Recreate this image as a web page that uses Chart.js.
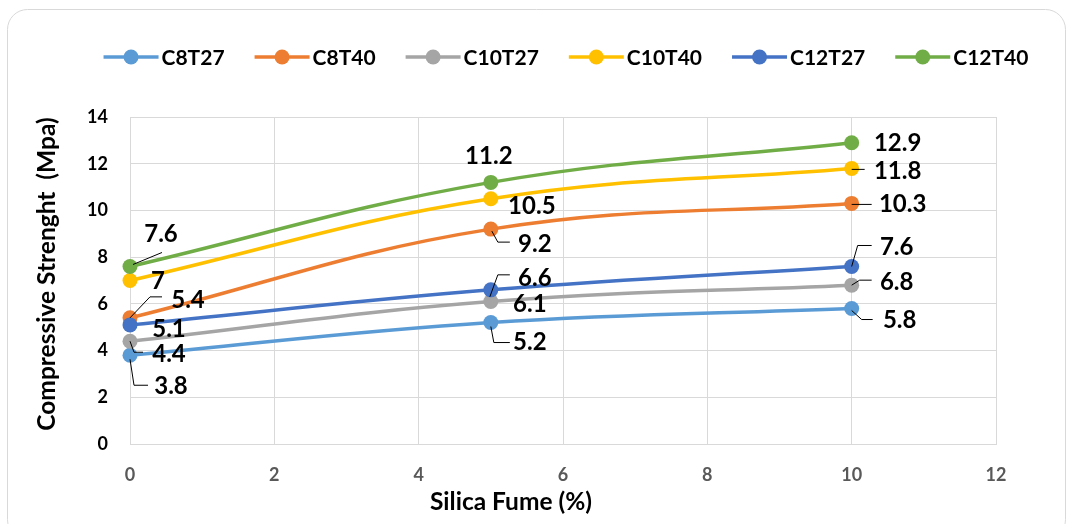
<!DOCTYPE html>
<html>
<head>
<meta charset="utf-8">
<script src="https://cdn.jsdelivr.net/npm/chart.js@4"></script>
<style>
  html, body { margin: 0; padding: 0; background: #ffffff; }
  #wrap { width: 1069px; height: 524px; position: relative; }
</style>
</head>
<body>
<div id="wrap"><canvas id="c" width="1069" height="524"></canvas></div>
<script>
// ---- data ----
const silicaFume = [0, 5, 10];
const seriesNames = ['C8T27', 'C8T40', 'C10T27', 'C10T40', 'C12T27', 'C12T40'];
const c8t27  = [3.8, 5.2, 5.8];
const c8t40  = [5.4, 9.2, 10.3];
const c10t27 = [4.4, 6.1, 6.8];
const c10t40 = [7, 10.5, 11.8];
const c12t27 = [5.1, 6.6, 7.6];
const c12t40 = [7.6, 11.2, 12.9];
const seriesValues = [c8t27, c8t40, c10t27, c10t40, c12t27, c12t40];
const xTickValues = [0, 2, 4, 6, 8, 10, 12];
const yTickValues = [0, 2, 4, 6, 8, 10, 12, 14];
const xTitle = 'Silica Fume (%)';
const yTitle = 'Compressive Strenght  (Mpa)';

// ---- styling ----
const seriesColors = ['#5B9BD5', '#ED7D31', '#A5A5A5', '#FFC000', '#4472C4', '#70AD47'];
const FONT = 'Lato, "Open Sans", sans-serif';

// label placement: [dx, dy] of the text centre from its point
const labelOffsets = [
  [[41, 31], [39, 20], [48, 12]],
  [[58, -18], [44, 15], [51, 1]],
  [[39, 13], [39, 3], [45, -3]],
  [[28, 1], [41, 8], [46, 3]],
  [[39, 4], [44, -12], [45, -19]],
  [[31, -32], [-2, -26], [46, 1]]
];
// leader lines, as polylines relative to the point (null = none)
const leaderPaths = [
  [[[0, 4], [4, 30], [18, 30]], [[0, 4], [3, 20], [19, 20]], [[0, 2], [10, 11], [21, 11]]],
  [[[0, 0], [20, -21], [32, -21]], [[1, 2], [7, 13], [19, 13]], [[0, 1], [20, 1]]],
  [[[0, 0], [4, 11], [13, 11]], null, [[0, 0], [8, -5], [20, -5]]],
  [null, null, [[0, 1], [13, 1]]],
  [null, [[-1, 7], [7, -15], [19, -15]], [[0, 0], [6, -21], [20, -21]]],
  [[[3, -2], [32, -14]], null, null]
];

const datasets = seriesNames.map((name, i) => ({
  label: name,
  data: silicaFume.map((x, j) => ({ x: x, y: seriesValues[i][j] })),
  borderColor: seriesColors[i],
  backgroundColor: seriesColors[i],
  borderWidth: 3.5,
  pointRadius: 7.5,
  pointHoverRadius: 7.5,
  pointBorderWidth: 0,
  tension: 0.4,
  fill: false,
  clip: false,
  order: seriesNames.length - i
}));

const decorations = {
  id: 'decorations',
  beforeDraw(chart) {
    const ctx = chart.ctx;
    ctx.save();
    ctx.fillStyle = '#ffffff';
    ctx.fillRect(0, 0, chart.width, chart.height);
    ctx.strokeStyle = '#d9d9d9';
    ctx.lineWidth = 1;
    ctx.beginPath();
    ctx.roundRect(7.5, 9.5, 1058, 530, 20);
    ctx.stroke();
    ctx.restore();
  },
  afterDatasetsDraw(chart) {
    const ctx = chart.ctx;
    ctx.save();
    // value labels with leader lines
    ctx.strokeStyle = '#000000';
    ctx.lineWidth = 1;
    ctx.fillStyle = '#000000';
    ctx.font = 'bold 24px ' + FONT;
    ctx.textAlign = 'center';
    ctx.textBaseline = 'middle';
    seriesValues.forEach((vals, i) => {
      const meta = chart.getDatasetMeta(i);
      vals.forEach((v, j) => {
        const pt = meta.data[j];
        const path = leaderPaths[i][j];
        if (path) {
          ctx.beginPath();
          path.forEach((p, k) => {
            const px = pt.x + p[0], py = pt.y + p[1];
            if (k === 0) ctx.moveTo(px, py); else ctx.lineTo(px, py);
          });
          ctx.stroke();
        }
        const off = labelOffsets[i][j];
        ctx.fillText(String(v), pt.x + off[0], pt.y + off[1]);
      });
    });

    // legend
    ctx.font = 'bold 21px ' + FONT;
    ctx.textAlign = 'left';
    const lineLen = 55, textGap = 3, itemGap = 30, legendY = 57;
    const widths = seriesNames.map(n => ctx.measureText(n).width);
    let total = 0;
    widths.forEach((w, i) => { total += lineLen + textGap + w + (i < widths.length - 1 ? itemGap : 0); });
    let x = 566 - total / 2;
    seriesNames.forEach((n, i) => {
      ctx.strokeStyle = seriesColors[i];
      ctx.lineWidth = 3.5;
      ctx.beginPath();
      ctx.moveTo(x, legendY);
      ctx.lineTo(x + lineLen, legendY);
      ctx.stroke();
      ctx.fillStyle = seriesColors[i];
      ctx.beginPath();
      ctx.arc(x + lineLen / 2, legendY, 7.5, 0, Math.PI * 2);
      ctx.fill();
      ctx.fillStyle = '#000000';
      ctx.fillText(n, x + lineLen + textGap, legendY + 1);
      x += lineLen + textGap + widths[i] + itemGap;
    });

    // axis titles
    ctx.font = 'bold 24.5px ' + FONT;
    ctx.textAlign = 'center';
    ctx.fillStyle = '#000000';
    ctx.fillText(xTitle, 511, 502);
    ctx.translate(47, 274);
    ctx.rotate(-Math.PI / 2);
    ctx.fillText(yTitle, 0, 0);
    ctx.restore();
  }
};

new Chart(document.getElementById('c'), {
  type: 'line',
  data: { datasets: datasets },
  options: {
    responsive: false,
    animation: false,
    devicePixelRatio: 1,
    layout: { padding: { top: 117, right: 73, left: 0, bottom: 0 } },
    plugins: { legend: { display: false }, tooltip: { enabled: false } },
    events: [],
    scales: {
      x: {
        type: 'linear',
        min: xTickValues[0],
        max: xTickValues[xTickValues.length - 1],
        afterBuildTicks(s) { s.ticks = xTickValues.map(v => ({ value: v })); },
        afterFit(s) { s.height = 80; },
        grid: { color: '#d9d9d9', lineWidth: 1, drawTicks: false },
        border: { color: '#d9d9d9' },
        ticks: { color: '#595959', padding: 20, font: { family: FONT, weight: 'bold', size: 18 } }
      },
      y: {
        type: 'linear',
        min: yTickValues[0],
        max: yTickValues[yTickValues.length - 1],
        afterBuildTicks(s) { s.ticks = yTickValues.map(v => ({ value: v })); },
        afterFit(s) { s.width = 130; },
        grid: { color: '#d9d9d9', lineWidth: 1, drawTicks: false },
        border: { color: '#d9d9d9' },
        ticks: { color: '#000000', padding: 22, font: { family: FONT, weight: 'bold', size: 18 } }
      }
    }
  },
  plugins: [decorations]
});
</script>
</body>
</html>
